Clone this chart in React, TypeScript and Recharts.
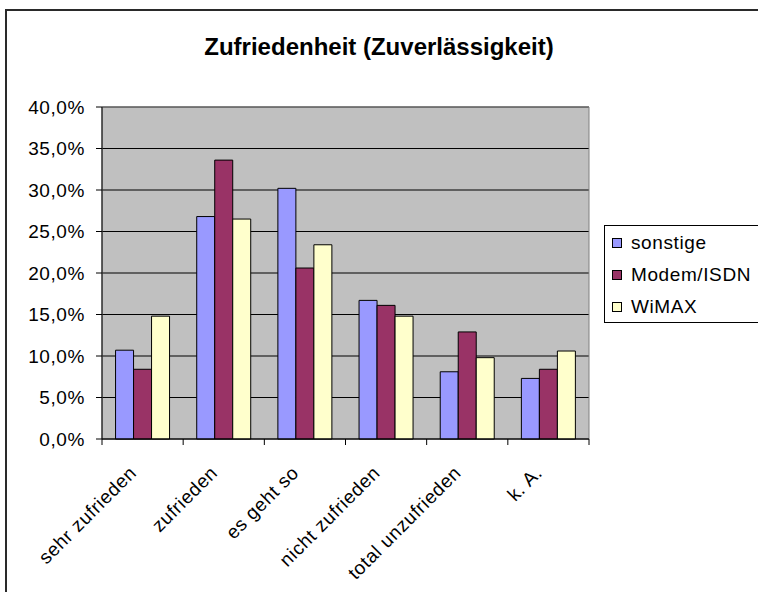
import { Bar, BarChart, CartesianGrid, Legend, ReferenceArea, XAxis, YAxis } from 'recharts';

const categories = ['sehr zufrieden', 'zufrieden', 'es geht so', 'nicht zufrieden', 'total unzufrieden', 'k. A.'];
const sonstige = [10.7, 26.8, 30.2, 16.7, 8.1, 7.3];
const modemIsdn = [8.4, 33.6, 20.6, 16.1, 12.9, 8.4];
const wimax = [14.8, 26.5, 23.4, 14.8, 9.8, 10.6];
const yTicks = [0, 5, 10, 15, 20, 25, 30, 35, 40];

const series = [
  { key: 'sonstige', name: 'sonstige', color: '#9999FF' },
  { key: 'modem', name: 'Modem/ISDN', color: '#993366' },
  { key: 'wimax', name: 'WiMAX', color: '#FFFFCC' },
];

const data = categories.map((cat, i) => ({
  cat,
  sonstige: sonstige[i],
  modem: modemIsdn[i],
  wimax: wimax[i],
}));

const W = 758;
const H = 592;
const margin = { top: 107, right: 169, bottom: 0, left: 0 };
const Y_AXIS_W = 102;
const X_AXIS_H = 153;
const PLOT_W = W - margin.left - margin.right - Y_AXIS_W;
const BAND = PLOT_W / categories.length;
const AXIS_Y = H - X_AXIS_H;
const FONT = 'Arial, "Liberation Sans", sans-serif';
const FS = 19;
const SPACING = 0.6;

const fmt = (v: number) => v.toFixed(1).replace('.', ',') + '%';

const XTick = (props: any) => {
  const { x, payload, index } = props;
  const left = x - BAND / 2;
  const ax = x - 5;
  const ay = AXIS_Y + 35;
  return (
    <g>
      <line x1={left} x2={left} y1={AXIS_Y} y2={AXIS_Y + 6} stroke="#000" />
      {index === categories.length - 1 && (
        <line x1={x + BAND / 2} x2={x + BAND / 2} y1={AXIS_Y} y2={AXIS_Y + 6} stroke="#000" />
      )}
      <text
        x={ax}
        y={ay}
        textAnchor="end"
        fontSize={FS}
        fontFamily={FONT}
        letterSpacing={SPACING}
        fill="#000"
        transform={`rotate(-45 ${ax} ${ay})`}
      >
        {payload.value}
      </text>
    </g>
  );
};

const YTick = (props: any) => {
  const { x, y, payload } = props;
  return (
    <text x={x + 1} y={y} dy={6.5} textAnchor="end" fontSize={FS} fontFamily={FONT} letterSpacing={SPACING} fill="#000">
      {fmt(payload.value)}
    </text>
  );
};

const LegendBox = () => (
  <div
    style={{
      position: 'absolute',
      left: 604,
      top: 225,
      width: 200,
      height: 98,
      border: '1px solid #000',
      background: '#fff',
      fontFamily: FONT,
      fontSize: FS,
      letterSpacing: SPACING,
      boxSizing: 'border-box',
    }}
  >
    {series.map((s, i) => (
      <div
        key={s.key}
        style={{ position: 'absolute', left: 7, top: 5 + i * 32, height: 24, display: 'flex', alignItems: 'center' }}
      >
        <span
          style={{
            display: 'inline-block',
            width: 8,
            height: 8,
            background: s.color,
            border: '1px solid #000',
            marginRight: 9,
          }}
        />
        <span>{s.name}</span>
      </div>
    ))}
  </div>
);

export default function App() {
  return (
    <div style={{ position: 'absolute', left: 0, top: 0, width: W, height: H, overflow: 'hidden', background: '#fff' }}>
      <div
        style={{
          position: 'absolute',
          left: 5,
          top: 9,
          width: 900,
          height: 800,
          border: '2px solid #2a2a2a',
          boxSizing: 'border-box',
        }}
      />
      <div
        style={{
          position: 'absolute',
          left: 0,
          top: 33,
          width: 758,
          textAlign: 'center',
          fontFamily: FONT,
          fontWeight: 'bold',
          fontSize: 24,
        }}
      >
        Zufriedenheit (Zuverlässigkeit)
      </div>
      <div style={{ position: 'absolute', left: 0, top: 0 }}>
        <BarChart width={W} height={H} data={data} margin={margin} barGap={0} barCategoryGap="16.7%">
          <CartesianGrid vertical={false} stroke="#000" fill="#C0C0C0" fillOpacity={1} />
          <ReferenceArea y1={0} y2={40} fill="none" stroke="#808080" strokeWidth={1} />
          <XAxis
            dataKey="cat"
            height={X_AXIS_H}
            axisLine={{ stroke: '#000' }}
            tickLine={false}
            tick={<XTick />}
            interval={0}
          />
          <YAxis
            width={Y_AXIS_W}
            domain={[0, 40]}
            ticks={yTicks}
            axisLine={{ stroke: '#000' }}
            tickLine={{ stroke: '#000' }}
            tickSize={6}
            tickMargin={12}
            tick={<YTick />}
          />
          {series.map((s) => (
            <Bar
              key={s.key}
              dataKey={s.key}
              name={s.name}
              fill={s.color}
              stroke="#000"
              strokeWidth={1}
              isAnimationActive={false}
            />
          ))}
          <Legend content={() => null} />
        </BarChart>
      </div>
      <LegendBox />
    </div>
  );
}
